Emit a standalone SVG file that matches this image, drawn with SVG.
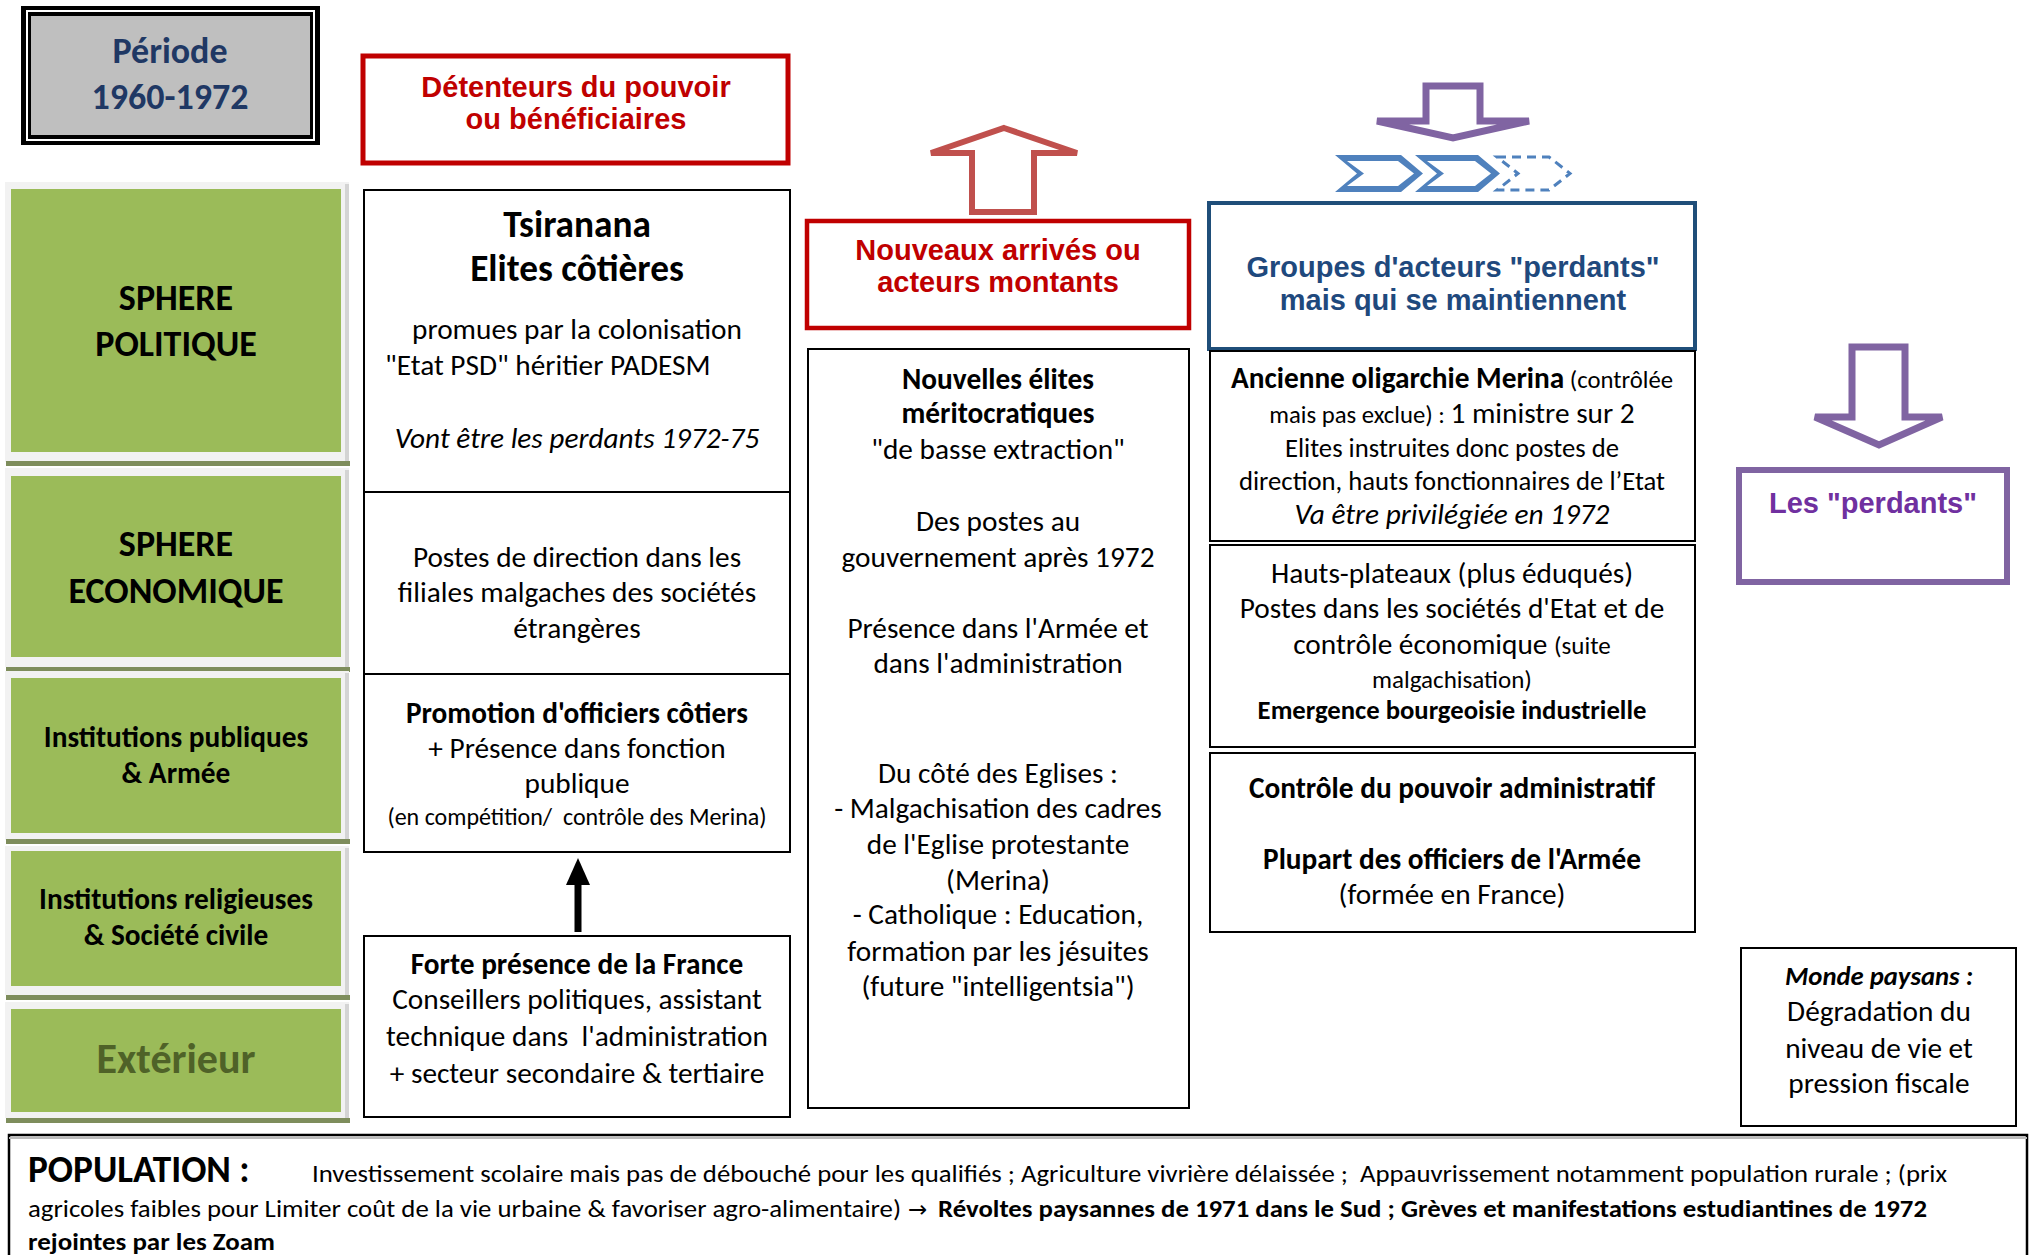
<svg xmlns="http://www.w3.org/2000/svg" width="2031" height="1255" viewBox="0 0 2031 1255">
<style>
.t{font-family:Carlito,Lato,'Liberation Sans',sans-serif;text-anchor:middle;fill:#000}
.l{text-anchor:start}
.b{font-weight:bold}
.i{font-style:italic}
.s37{font-size:37.3px}
.s29{font-size:29.3px}
.s27{font-size:26.7px}
.s25{font-size:24.7px}
.s24{font-size:24px}
.h{font-family:'Liberation Sans',Arial,sans-serif;font-weight:bold;font-size:29px;text-anchor:middle}
.box{fill:#fff;stroke:#000;stroke-width:2}
.gf{fill:#f2f2f2}
.gg{fill:#9bbb59}
.gb{fill:#7e8d5c}
.gs{fill:#d4d4d4}
.gt{font-family:Carlito,Lato,'Liberation Sans',sans-serif;font-weight:bold;text-anchor:middle;fill:#000}
.chev{fill:#4f81bd;fill-rule:evenodd}
</style>
<rect width="2031" height="1255" fill="#fff"/>

<g id="periode">
<rect x="21" y="6" width="299" height="139" fill="#000"/>
<rect x="26" y="10" width="289" height="131" fill="#fff"/>
<rect x="28" y="12" width="285" height="127" fill="#000"/>
<rect x="31" y="16" width="279" height="119" fill="#bfbfbf"/>
<text class="t b" x="170" y="63" style="font-size:36px;fill:#1f3864">Période</text>
<text class="t b" x="170" y="109" style="font-size:36px;fill:#1f3864">1960-1972</text>
</g>

<g id="detenteurs">
<rect x="363" y="56" width="425" height="107" fill="#fff" stroke="#c00000" stroke-width="5"/>
<text class="h" x="576" y="97" fill="#c00000">Détenteurs du pouvoir</text>
<text class="h" x="576" y="129" fill="#c00000">ou bénéficiaires</text>
</g>

<g id="sphere-politique">
<rect class="gf" x="5" y="182" width="344" height="280"/>
<rect class="gs" x="345" y="184" width="4" height="277"/>
<rect class="gg" x="11" y="189" width="330" height="263"/>
<rect class="gb" x="6" y="461" width="344" height="5"/>
<text class="gt" x="176" y="310" font-size="36">SPHERE</text>
<text class="gt" x="176" y="356" font-size="36">POLITIQUE</text>
</g>
<g id="sphere-economique">
<rect class="gf" x="5" y="468" width="344" height="199"/>
<rect class="gs" x="345" y="470" width="4" height="197"/>
<rect class="gg" x="11" y="476" width="330" height="181"/>
<rect class="gb" x="6" y="667" width="344" height="5"/>
<text class="gt" x="176" y="556" font-size="36">SPHERE</text>
<text class="gt" x="176" y="603" font-size="36">ECONOMIQUE</text>
</g>
<g id="institutions-publiques">
<rect class="gf" x="5" y="671" width="344" height="169"/>
<rect class="gs" x="345" y="673" width="4" height="167"/>
<rect class="gg" x="11" y="678" width="330" height="155"/>
<rect class="gb" x="6" y="839" width="344" height="5"/>
<text class="gt" x="176" y="747" font-size="29.3">Institutions publiques</text>
<text class="gt" x="176" y="783" font-size="29.3">&amp; Armée</text>
</g>
<g id="institutions-religieuses">
<rect class="gf" x="5" y="846" width="344" height="149"/>
<rect class="gs" x="345" y="848" width="4" height="147"/>
<rect class="gg" x="11" y="851" width="330" height="135"/>
<rect class="gb" x="6" y="995" width="344" height="5"/>
<text class="gt" x="176" y="909" font-size="29.3">Institutions religieuses</text>
<text class="gt" x="176" y="945" font-size="29.3">&amp; Société civile</text>
</g>
<g id="exterieur">
<rect class="gf" x="5" y="1002" width="344" height="116"/>
<rect class="gs" x="345" y="1004" width="4" height="114"/>
<rect class="gg" x="11" y="1009" width="330" height="103"/>
<rect class="gb" x="6" y="1118" width="344" height="5"/>
<text class="gt" x="176" y="1073" font-size="42" style="fill:#4f6228">Extérieur</text>
</g>

<g id="tsiranana">
<rect class="box" x="364" y="190" width="426" height="302"/>
<text class="t b s37" x="577" y="237">Tsiranana</text>
<text class="t b s37" x="577" y="281">Elites côtières</text>
<text class="t s29" x="577" y="339">promues par la colonisation</text>
<text class="t s29 l" x="385" y="375">"Etat PSD" héritier PADESM</text>
<text class="t s29 i" x="577" y="448">Vont être les perdants 1972-75</text>
</g>
<g id="postes-direction">
<rect class="box" x="364" y="492" width="426" height="182"/>
<text class="t s29" x="577" y="567">Postes de direction dans les</text>
<text class="t s29" x="577" y="602">filiales malgaches des sociétés</text>
<text class="t s29" x="577" y="638">étrangères</text>
</g>
<g id="promotion-officiers">
<rect class="box" x="364" y="674" width="426" height="178"/>
<text class="t b s29" x="577" y="723">Promotion d'officiers côtiers</text>
<text class="t s29" x="577" y="758">+ Présence dans fonction</text>
<text class="t s29" x="577" y="793">publique</text>
<text class="t s24" x="577" y="825" xml:space="preserve">(en compétition/  contrôle des Merina)</text>
</g>
<g id="presence-france">
<rect class="box" x="364" y="936" width="426" height="181"/>
<text class="t b s29" x="577" y="974">Forte présence de la France</text>
<text class="t s29" x="577" y="1009">Conseillers politiques, assistant</text>
<text class="t s29" x="577" y="1046" xml:space="preserve">technique dans  l'administration</text>
<text class="t s29" x="577" y="1083">+ secteur secondaire &amp; tertiaire</text>
</g>

<g id="nouveaux-arrives">
<rect x="807" y="221" width="382" height="107" fill="#fff" stroke="#c00000" stroke-width="4.5"/>
<text class="h" x="998" y="260" fill="#c00000">Nouveaux arrivés ou</text>
<text class="h" x="998" y="292" fill="#c00000">acteurs montants</text>
</g>
<g id="nouvelles-elites">
<rect class="box" x="808" y="349" width="381" height="759"/>
<text class="t b s29" x="998" y="389">Nouvelles élites</text>
<text class="t b s29" x="998" y="423">méritocratiques</text>
<text class="t s29" x="998" y="459">"de basse extraction"</text>
<text class="t s29" x="998" y="531">Des postes au</text>
<text class="t s29" x="998" y="567">gouvernement après 1972</text>
<text class="t s29" x="998" y="638">Présence dans l'Armée et</text>
<text class="t s29" x="998" y="673">dans l'administration</text>
<text class="t s29" x="998" y="783">Du côté des Eglises :</text>
<text class="t s29" x="998" y="818">- Malgachisation des cadres</text>
<text class="t s29" x="998" y="854">de l'Eglise protestante</text>
<text class="t s29" x="998" y="890">(Merina)</text>
<text class="t s29" x="998" y="924">- Catholique : Education,</text>
<text class="t s29" x="998" y="961">formation par les jésuites</text>
<text class="t s29" x="998" y="996">(future "intelligentsia")</text>
</g>

<g id="groupes-perdants">
<rect x="1209" y="203" width="486" height="146" fill="#fff" stroke="#1f4e79" stroke-width="4"/>
<text class="h" x="1453" y="277" fill="#1f497d">Groupes d'acteurs "perdants"</text>
<text class="h" x="1453" y="310" fill="#1f497d">mais qui se maintiennent</text>
</g>
<g id="oligarchie-merina">
<rect class="box" x="1210" y="351" width="485" height="190"/>
<text class="t" x="1452" y="388"><tspan class="b s29">Ancienne oligarchie Merina</tspan><tspan class="s25"> (contrôlée</tspan></text>
<text class="t" x="1452" y="423"><tspan class="s25">mais pas exclue) : </tspan><tspan class="s29">1 ministre sur 2</tspan></text>
<text class="t s27" x="1452" y="457">Elites instruites donc postes de</text>
<text class="t s27" x="1452" y="490">direction, hauts fonctionnaires de l’Etat</text>
<text class="t s29 i" x="1452" y="524">Va être privilégiée en 1972</text>
</g>
<g id="hauts-plateaux">
<rect class="box" x="1210" y="545" width="485" height="202"/>
<text class="t s29" x="1452" y="583">Hauts-plateaux (plus éduqués)</text>
<text class="t s29" x="1452" y="618">Postes dans les sociétés d'Etat et de</text>
<text class="t" x="1452" y="654"><tspan class="s29">contrôle économique </tspan><tspan style="font-size:25px">(suite</tspan></text>
<text class="t" x="1452" y="688" style="font-size:25px">malgachisation)</text>
<text class="t b s27" x="1452" y="719">Emergence bourgeoisie industrielle</text>
</g>
<g id="controle-administratif">
<rect class="box" x="1210" y="753" width="485" height="179"/>
<text class="t b s29" x="1452" y="798">Contrôle du pouvoir administratif</text>
<text class="t b s29" x="1452" y="869">Plupart des officiers de l'Armée</text>
<text class="t s29" x="1452" y="904">(formée en France)</text>
</g>

<g id="les-perdants">
<rect x="1739" y="470" width="268" height="112" fill="#fff" stroke="#8064a2" stroke-width="6"/>
<text class="h" x="1873" y="513" fill="#7030a0">Les "perdants"</text>
</g>
<g id="monde-paysans">
<rect class="box" x="1741" y="948" width="275" height="178"/>
<text class="t b i s27" x="1879" y="985">Monde paysans :</text>
<text class="t s29" x="1879" y="1021">Dégradation du</text>
<text class="t s29" x="1879" y="1058">niveau de vie et</text>
<text class="t s29" x="1879" y="1093">pression fiscale</text>
</g>

<g id="population">
<rect x="9" y="1135" width="2018" height="140" fill="#fff" stroke="#000" stroke-width="2.5"/>
<line x1="9" y1="1138" x2="2027" y2="1138" stroke="#bbb" stroke-width="2"/>
<text class="t l b s37" x="28" y="1182">POPULATION :</text>
<text class="t l s24" x="312" y="1182" textLength="1635" lengthAdjust="spacingAndGlyphs" xml:space="preserve">Investissement scolaire mais pas de débouché pour les qualifiés ; Agriculture vivrière délaissée ;  Appauvrissement notamment population rurale ; (prix</text>
<text class="t l s24" x="28" y="1217" textLength="873" lengthAdjust="spacingAndGlyphs">agricoles faibles pour Limiter coût de la vie urbaine &amp; favoriser agro-alimentaire)</text>
<text class="l" x="908" y="1217" style="font-family:'DejaVu Sans',sans-serif;font-size:23px">→</text>
<text class="t l b s24" x="938" y="1217" textLength="989" lengthAdjust="spacingAndGlyphs">Révoltes paysannes de 1971 dans le Sud ; Grèves et manifestations estudiantines de 1972</text>
<text class="t l b s24" x="28" y="1250" textLength="247" lengthAdjust="spacingAndGlyphs">rejointes par les Zoam</text>
</g>

<g id="connectors">
<line x1="578" y1="932" x2="578" y2="880" stroke="#000" stroke-width="7"/>
<polygon points="578,858 566,885 590,885" fill="#000"/>
<polygon points="1004,128 1077,153 1034,153 1034,212 972,212 972,153 931,153" fill="#fff" stroke="#c0504d" stroke-width="6" stroke-linejoin="miter"/>
<polygon points="1426,86 1480,86 1480,121 1529,121 1453,138 1377,121 1426,121" fill="#fff" stroke="#8064a2" stroke-width="7"/>
<polygon points="1852,347 1905,347 1905,417 1942,417 1879,445 1815,417 1852,417" fill="#fff" stroke="#8064a2" stroke-width="7"/>
<path class="chev" d="M1335,155 L1401,155 L1423,173.5 L1401,192 L1335,192 L1357,173.5 Z M1347,161 L1398,161 L1414,173.5 L1398,186 L1347,186 L1364,173.5 Z"/>
<path class="chev" d="M1415,155 L1478,155 L1500,173.5 L1478,192 L1415,192 L1437,173.5 Z M1427,161 L1475,161 L1491,173.5 L1475,186 L1427,186 L1444,173.5 Z"/>
<polygon points="1497,157 1549,157 1570,173.5 1549,190 1497,190 1518,173.5" fill="none" stroke="#4f81bd" stroke-width="3" stroke-dasharray="9,6"/>
</g>
</svg>
